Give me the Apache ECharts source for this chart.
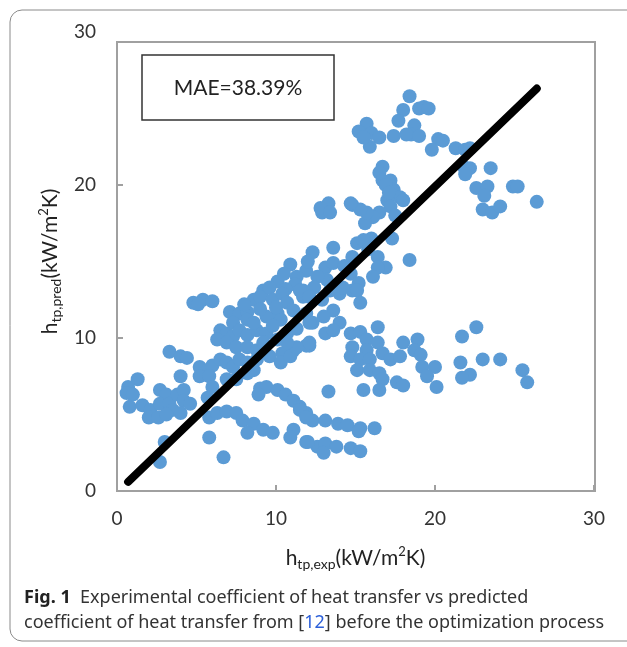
<!DOCTYPE html>
<html>
<head>
<meta charset="utf-8">
<script src="https://cdn.jsdelivr.net/npm/echarts@6/dist/echarts.min.js"></script>
<style>
  html, body { margin: 0; padding: 0; background: #fff; }
  #chart { width: 627px; height: 647px; }
</style>
</head>
<body>
<div id="chart"></div>
<script>
// axis ticks
var tickValues = [0, 10, 20, 30];

var upperPoints = [
    [18.4,25.8],[18.0,24.9],[19.0,25.0],[18.7,23.9],[17.7,24.2],[19.3,25.1],[18.5,23.3],[19.6,25.0],
    [17.4,23.2],[18.2,23.3],[19.0,23.2],[20.2,23.0],[19.8,22.3],[20.5,22.9],[21.3,22.4],[21.9,22.3],[22.2,22.4],
    [21.8,21.2],[22.2,21.1],[21.9,20.7],[23.5,21.1],[22.6,19.8],[23.3,19.9],[23.1,19.3],[23.0,18.4],[23.6,18.2],
    [24.1,18.6],[24.9,19.9],[25.2,19.9],[26.4,18.9],
    [15.7,24.0],[15.2,23.5],[16.0,23.4],[16.5,23.1],[15.9,22.5],[15.5,23.1],
    [16.7,21.2],[16.5,20.8],[17.2,20.3],[16.7,20.3],[17.4,19.7],[17.8,19.2],[18.0,19.0],[17.0,19.0],[17.2,18.6],
    [16.5,18.2],[16.1,17.9],[15.6,17.5],[15.7,18.2],[14.8,18.7],[15.3,18.4],[14.7,18.8],[13.3,18.8],[12.9,18.2],
    [12.8,18.5],[13.4,18.2],[17.3,16.5],[18.4,15.1],[16.0,16.5],[16.9,20.0],[17.1,19.5],[17.5,18.0]
];

var midPoints = [
    [12.3,15.6],[13.6,15.9],[15.1,16.2],[15.5,16.4],[14.8,15.3],[16.4,15.3],[16.9,14.6],[16.4,14.6],[11.9,14.4],
    [13.1,14.6],[13.6,14.9],[14.7,14.2],[15.2,13.6],[14.8,13.1],[13.2,13.8],[14.0,12.9],[11.7,13.1],
    [10.9,14.8],[10.1,13.7],[9.2,13.1],[10.5,14.2],[11.3,14.0],[12.6,14.0],[12.4,13.3],[13.5,13.4],[14.3,14.7],
    [15.8,15.8],[16.1,14.0],[12.0,15.0],[11.2,13.5],[10.6,13.2],[12.9,12.5]
];

var centralPoints = [
    [4.8,12.3],[5.4,12.5],[6.0,12.4],[5.1,12.2],
    [7.1,11.7],[7.7,11.6],[8.2,11.7],[7.3,11.0],[8.2,11.2],[8.6,12.5],[9.0,12.7],[9.6,13.3],[9.8,12.5],[10.4,12.9],
    [10.7,12.3],[11.1,11.8],[10.1,11.6],[10.3,11.2],[11.7,12.7],[11.9,11.6],[12.3,11.0],[9.4,11.4],
    [6.5,10.5],[6.9,10.3],[7.3,10.1],[7.7,10.5],[8.2,10.2],[8.8,10.5],[9.4,10.3],[6.3,9.9],[6.9,9.7],[7.5,9.4],
    [8.2,9.4],[8.8,9.2],[9.2,9.7],[10.1,9.9],[10.4,9.0],[11.1,9.2],[10.7,10.3],[11.9,9.5],
    [11.5,13.1],[12.1,12.7],[13.4,13.1],[13.6,11.8],[14.2,13.3],[15.1,13.1],[15.3,12.3],[12.1,11.0],[13.0,11.4],
    [14.0,11.0],[12.1,9.5],[9.0,11.9],[8.6,11.0],[9.8,10.8],[11.3,10.6],[10.0,12.0],[8.0,12.2]
];

var lowerLeftPoints = [
    [3.3,9.1],[4.0,8.8],[4.4,8.7],[4.0,7.5],[5.2,8.1],[5.7,7.9],[6.0,8.2],[6.5,8.6],[6.9,8.4],[7.3,8.1],[7.7,8.6],
    [8.2,8.4],[8.6,7.9],[5.2,7.5],[5.8,7.5],[8.2,7.7],[7.5,7.3],[6.9,7.3],[8.8,8.6],[9.6,8.8],[10.3,8.4],[10.9,8.8],
    [11.3,9.4],[10.7,9.7],[12.1,9.7],
    [1.3,7.3],[0.7,6.8],[0.6,6.4],[1.0,6.3],[0.8,5.5],[1.6,5.6],[2.1,5.3],[2.0,4.8],[2.6,4.8],[2.7,6.6],[3.1,6.3],
    [2.7,5.7],[3.3,5.7],[3.8,6.3],[4.2,6.6],[4.2,5.9],[3.5,5.3],[3.1,5.0],[4.0,5.1],[4.6,5.7],
    [3.0,3.2],[2.7,1.9],[5.8,3.5],[6.7,2.2],[5.7,6.1],[6.0,6.8]
];

var bandPoints = [
    [5.8,4.8],[6.3,5.1],[6.9,5.2],[7.5,5.1],[7.9,4.6],[8.6,4.4],[9.2,4.0],[9.8,3.8],[8.2,3.8],[11.1,4.0],[10.9,3.5],
    [11.9,3.2],[12.6,2.9],[12.0,3.2],[13.1,3.1],[13.8,2.9],[14.7,2.8],[15.3,2.6],[13.0,2.5],
    [9.0,6.7],[9.4,6.8],[10.1,6.6],[10.6,6.3],[11.1,5.9],[11.5,5.5],[11.9,5.1],[12.3,4.6],[8.9,6.3],[11.5,5.3],
    [11.9,4.8],[13.1,4.6],[13.9,4.4],[14.5,4.3],[15.3,4.1],[16.2,4.1],[15.2,3.9]
];

var rightPoints = [
    [13.1,10.3],[13.6,10.5],[14.7,10.3],[15.3,10.4],[16.4,10.7],[15.7,9.9],[16.4,9.7],[14.8,9.4],[15.7,9.2],
    [14.7,8.8],[15.3,8.6],[15.9,8.6],[16.7,9.0],[17.2,8.6],[15.1,7.9],[15.9,7.9],[16.5,7.7],[16.7,7.3],[17.6,7.1],
    [18.0,6.9],[16.5,6.6],[15.5,6.6],[13.3,6.5],
    [18.0,9.7],[18.9,9.9],[18.7,9.2],[19.1,8.9],[19.2,8.1],[20.0,8.1],[19.5,7.5],[20.1,6.8],[17.8,8.8],
    [21.7,10.1],[22.6,10.7],[21.6,8.4],[22.2,7.6],[21.7,7.4],[23.0,8.6],[24.1,8.6],[25.5,7.9],[25.8,7.1]
];

// black reference line ends
var fitLine = [[0.7, 0.6], [26.4, 26.3]];

var maeText = 'MAE=38.39%';

var allPoints = [].concat(upperPoints, midPoints, centralPoints, lowerLeftPoints, bandPoints, rightPoints);

var labelFont = 'Lato';
var gray = '#a0a0a0';

const nameRich = {
    a: { fontSize: 21, lineHeight: 26, color: '#222', fontFamily: labelFont, verticalAlign: 'middle' },
    s: { fontSize: 14, lineHeight: 14, color: '#222', fontFamily: labelFont, verticalAlign: 'bottom' },
    p: { fontSize: 13, lineHeight: 13, color: '#222', fontFamily: labelFont, verticalAlign: 'top' }
};

const buildOption = () => {
    return {
        animation: false,
        backgroundColor: '#fff',
        grid: { left: 117, right: 33, top: 32, bottom: 156 },
        xAxis: {
            type: 'value',
            min: 0, max: 30, interval: 10,
            axisLine: { show: false },
            axisTick: { show: true, inside: true, length: 6, lineStyle: { color: gray, width: 2 } },
            splitLine: { show: false },
            axisLabel: { margin: 18, fontSize: 19, color: '#333', fontFamily: labelFont },
            name: '{a|h}{s|tp,exp}{a|(kW/m}{p|2}{a|K)}',
            nameLocation: 'middle',
            nameGap: 54,
            nameTextStyle: { rich: nameRich }
        },
        yAxis: {
            type: 'value',
            min: 0, max: 30, interval: 10,
            axisLine: { show: false },
            axisTick: { show: true, inside: true, length: 6, customValues: [0, 10, 20], lineStyle: { color: gray, width: 2 } },
            splitLine: { show: false },
            axisLabel: { margin: 21, fontSize: 19, color: '#333', fontFamily: labelFont },
            name: '{a|h}{s|tp,pred}{a|(kW/m}{p|2}{a|K)}',
            nameLocation: 'middle',
            nameRotate: 90,
            nameGap: 54,
            nameTextStyle: { rich: nameRich }
        },
        graphic: [
            // outer rounded frame
            { type: 'rect', shape: { x: 10, y: 10, width: 640, height: 631, r: 12 },
              style: { fill: 'none', stroke: '#8a8a8a', lineWidth: 1 }, silent: true, z: 0 },
            // plot frame
            { type: 'rect', shape: { x: 117, y: 42, width: 478, height: 449 },
              style: { fill: 'none', stroke: gray, lineWidth: 2 }, silent: true, z: 1 },
            // MAE box
            { type: 'rect', shape: { x: 142, y: 55, width: 192, height: 65 },
              style: { fill: '#fff', stroke: '#333', lineWidth: 1.5 }, z: 10 },
            { type: 'text', x: 238, y: 88, z: 11,
              style: { text: maeText, font: '21px ' + labelFont, fill: '#222', align: 'center', verticalAlign: 'middle' } },
            // caption
            { type: 'text', x: 24, y: 598, z: 11,
              style: {
                  text: '{b|Fig. 1}{n|  Experimental coefficient of heat transfer vs predicted}',
                  verticalAlign: 'middle',
                  rich: {
                      b: { font: 'bold 18px "Noto Sans"', fill: '#222' },
                      n: { font: '18px "Noto Sans"', fill: '#333' }
                  }
              } },
            { type: 'text', x: 24, y: 623, z: 11,
              style: {
                  text: '{n|coefficient of heat transfer from [}{l|12}{n|] before the optimization process}',
                  verticalAlign: 'middle',
                  rich: {
                      n: { font: '18px "Noto Sans"', fill: '#333' },
                      l: { font: '18px "Noto Sans"', fill: '#2b5fd9' }
                  }
              } }
        ],
        series: [
            {
                type: 'scatter',
                data: allPoints,
                symbolSize: 14,
                itemStyle: { color: '#5b9bd5', opacity: 1 },
                z: 2
            },
            {
                type: 'line',
                data: fitLine,
                symbol: 'none',
                lineStyle: { color: '#000', width: 8, cap: 'round' },
                z: 3
            }
        ]
    };
};

window.addEventListener('load', () => {
    const chart = echarts.init(document.getElementById('chart'));
    chart.setOption(buildOption());
});
</script>
</body>
</html>
